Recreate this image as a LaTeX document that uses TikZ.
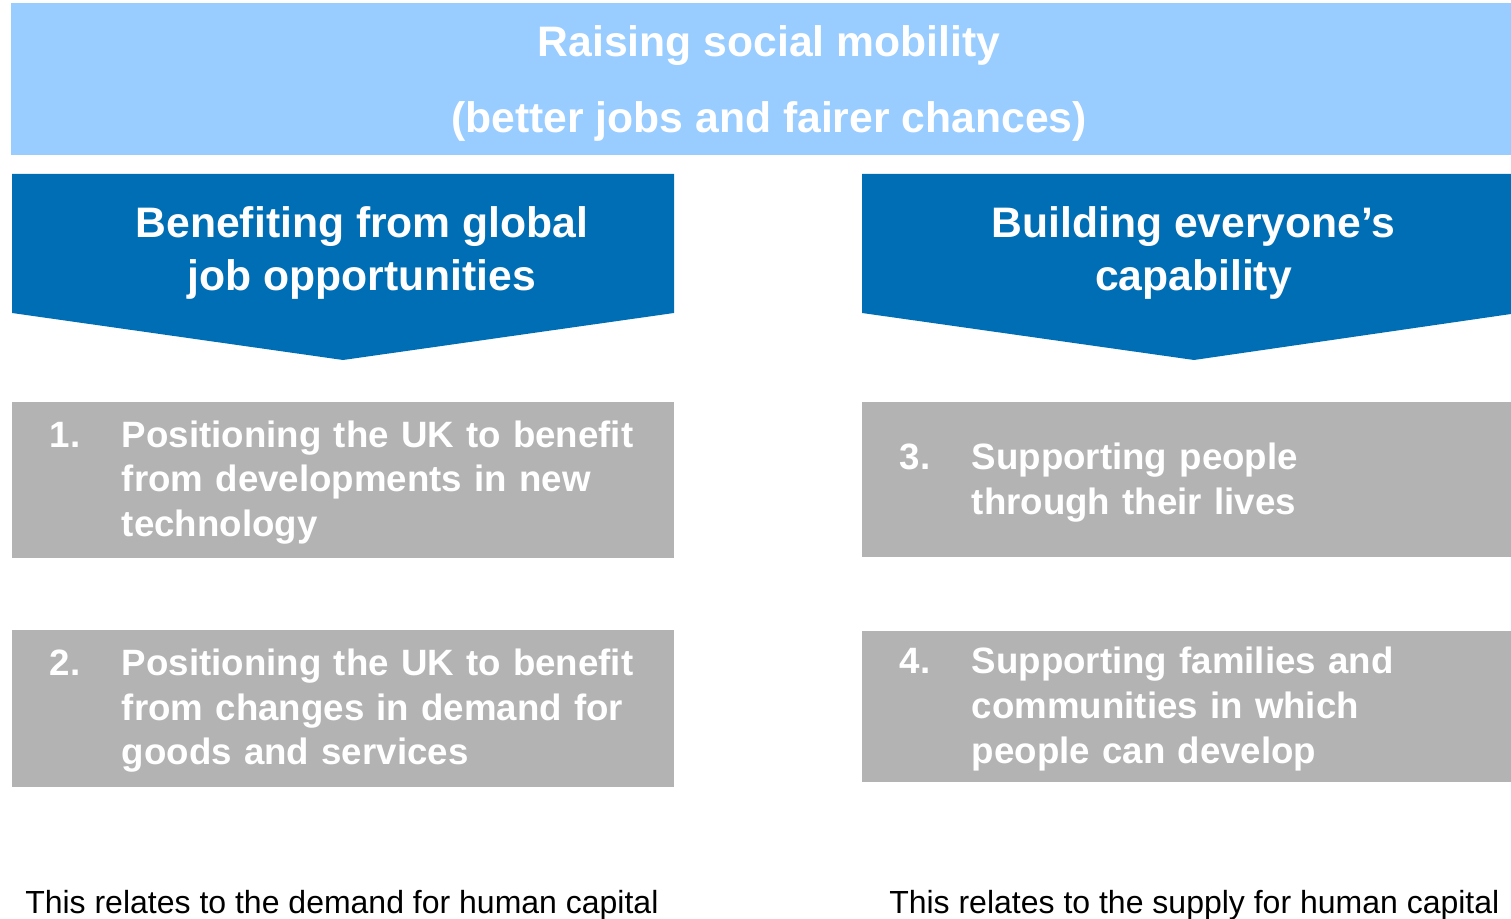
\documentclass[tikz,border=0pt]{standalone}
\usepackage{fontspec}
\setmainfont{Liberation Sans}
\usetikzlibrary{positioning}

\definecolor{skyblue}{HTML}{99CCFF}
\definecolor{deepblue}{HTML}{006EB4}
\definecolor{stonegrey}{HTML}{B3B3B3}

\newcommand{\numtext}[2]{\makebox[54pt][l]{\rule{0pt}{28pt}#1}\begin{tabular}[t]{@{}l@{}}#2\end{tabular}}

\begin{document}
\begin{tikzpicture}[
    x=0.75pt, y=-0.75pt,
    banner/.style={text=white, align=center, inner sep=0pt, font=\fontsize{32}{57}\selectfont\bfseries},
    chevron/.style={fill=deepblue},
    heading/.style={text=white, align=center, inner sep=0pt, font=\fontsize{32}{39.75}\selectfont\bfseries},
    item/.style={fill=stonegrey, text=white, align=left, inner xsep=28.5pt, inner ysep=0pt, font=\fontsize{27.5}{33.4}\selectfont\bfseries},
    caption/.style={anchor=base west, inner sep=0pt, font=\fontsize{24}{28}\selectfont}
  ]
    \useasboundingbox (0,0) rectangle (1511,919);

    % goal banner
    \fill[skyblue] (11,3) rectangle (1511,155);
    \node[banner] (goal) at (769,83) {Raising social mobility\\(better jobs and fairer chances)};

    % the two chevrons
    \fill[chevron] (12,174) -- (674,174) -- (674,313) -- (343,360) -- (12,313) -- cycle;
    \fill[chevron] (862,174) -- (1511,174) -- (1511,314) -- (1194,360) -- (862,313) -- cycle;
    \node[heading] (demand) at (362,253) {Benefiting from global\\job opportunities};
    \node[heading] (supply) at (1193.5,253) {Building everyone’s\\capability};

    \node[item, text width=439.5pt, minimum height=117pt] (one) at (343,480) {\numtext{1.}{Positioning the UK to benefit\\from developments in new\\technology}};
    \node[item, text width=439.5pt, minimum height=117.75pt, below=53.25pt of one] (two) {\numtext{2.}{Positioning the UK to benefit\\from changes in demand for\\goods and services}};
    \node[item, text width=429.75pt, minimum height=116.25pt, right=140.5pt of one] (three) {\numtext{3.}{Supporting people\\through their lives}};
    \node[item, text width=429.75pt, minimum height=113.25pt, below=54.75pt of three] (four) {\numtext{4.}{Supporting families and\\communities in which\\people can develop}};

    \node[caption] (demandnote) at (25,913) {This relates to the demand for human capital};
    \node[caption] (supplynote) at (889,913) {This relates to the supply for human capital};
  \end{tikzpicture}
\end{document}
